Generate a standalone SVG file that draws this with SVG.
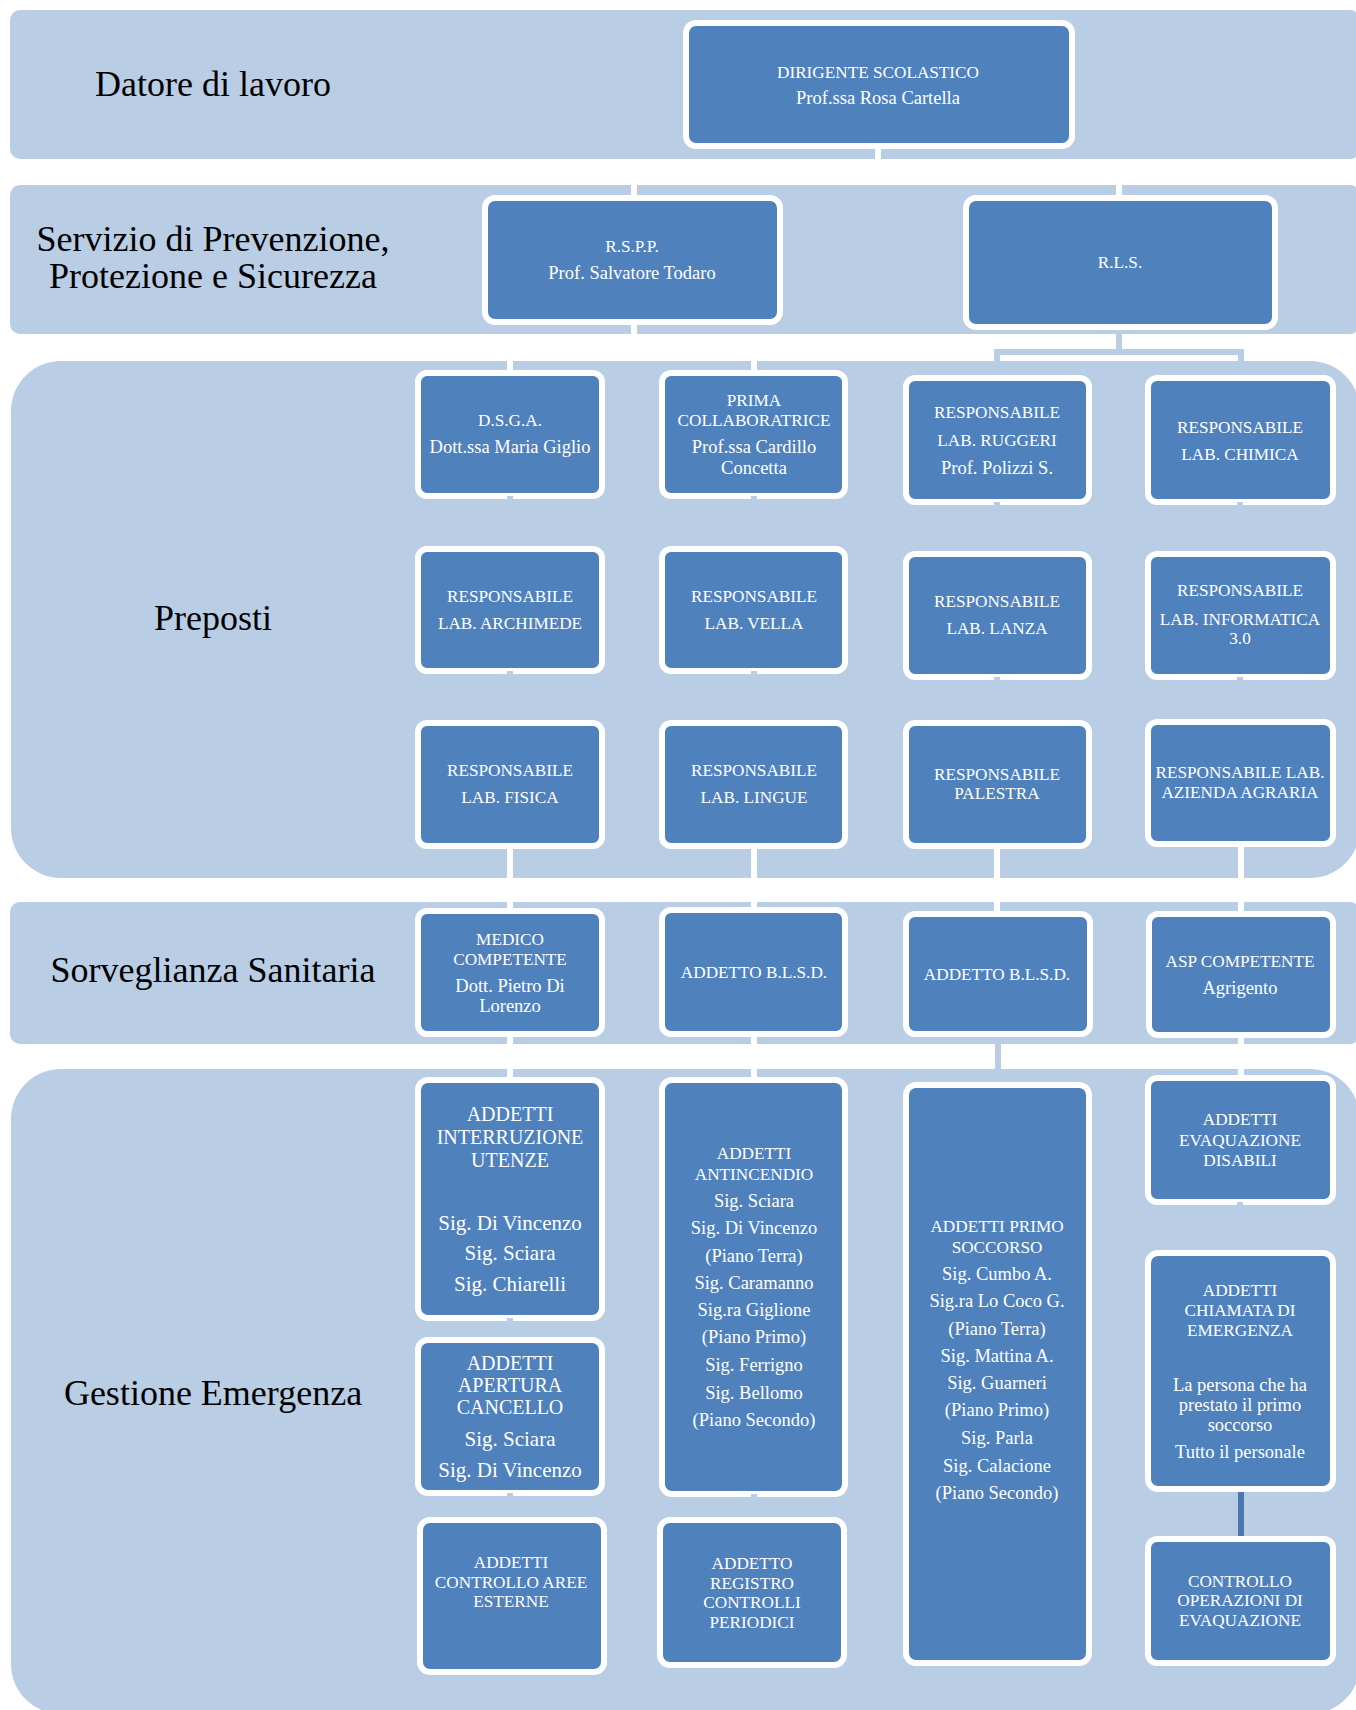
<svg xmlns="http://www.w3.org/2000/svg" width="1356" height="1710" viewBox="0 0 1356 1710">
<style>
.band{fill:#b9cde5}
.box{fill:#4f81bd;stroke:#ffffff;stroke-width:6}
.lbl{font-family:"Liberation Serif","Times New Roman",serif;font-size:36px;fill:#000000;text-anchor:middle}
.t{font-family:"Liberation Serif","Times New Roman",serif;font-size:18.5px;fill:#ffffff;text-anchor:middle}
.c{font-family:"Liberation Serif","Times New Roman",serif;font-size:17.2px;fill:#ffffff;text-anchor:middle}
.tl{font-family:"Liberation Serif","Times New Roman",serif;font-size:21px;fill:#ffffff;text-anchor:middle}
.cl{font-family:"Liberation Serif","Times New Roman",serif;font-size:20px;fill:#ffffff;text-anchor:middle}
.cw{stroke:#ffffff;stroke-width:6;fill:none}
.cb{stroke:#b9cde5;stroke-width:6;fill:none}
.cd{stroke:#4a77ae;stroke-width:6;fill:none}
</style>
<rect width="1356" height="1710" fill="#ffffff"/>
<g id="bands">
<rect class="band" x="10" y="10" width="1350" height="149" rx="10"/>
<rect class="band" x="10" y="185" width="1350" height="149" rx="10"/>
<rect class="band" x="11" y="361" width="1349" height="517" rx="50"/>
<rect class="band" x="10" y="902" width="1350" height="142" rx="10"/>
<rect class="band" x="11" y="1069" width="1349" height="645" rx="50"/>
<text class="lbl" x="213" y="96">Datore di lavoro</text>
<text class="lbl" x="213" y="251">Servizio di Prevenzione,</text>
<text class="lbl" x="213" y="288">Protezione e Sicurezza</text>
<text class="lbl" x="213" y="630">Preposti</text>
<text class="lbl" x="213" y="982">Sorveglianza Sanitaria</text>
<text class="lbl" x="213" y="1405">Gestione Emergenza</text>
</g>
<g id="connectors">
<path class="cw" d="M878 149 V172 H634 V196 M878 172 H1119 V196"/>
<path class="cw" d="M634 325 V347 H510 V371 M634 347 H754 V371"/>
<path class="cb" d="M1119 330 V352 H997 V376 M1119 352 H1241 V376"/>
<path class="cw" d="M510 849 V909 M754 849 V908 M997 849 V912 M1241 847 V912"/>
<path class="cw" d="M510 1037 V1078 M754 1037 V1078 M1241 1038 V1076"/>
<path class="cb" d="M998 1036 V1083"/>
<path class="cd" d="M1241 1491 V1536"/>
</g>
<g id="n-dirigente"><rect class="box" x="686" y="23" width="386" height="123" rx="10"/>
<text class="c" x="878" y="78">DIRIGENTE SCOLASTICO</text><text class="t" x="878" y="104">Prof.ssa Rosa Cartella</text></g>
<g id="n-rspp"><rect class="box" x="485" y="198" width="295" height="124" rx="10"/>
<text class="c" x="632" y="252">R.S.P.P.</text><text class="t" x="632" y="279">Prof. Salvatore Todaro</text></g>
<g id="n-rls"><rect class="box" x="966" y="198" width="309" height="129" rx="10"/>
<text class="c" x="1120" y="268">R.L.S.</text></g>
<g id="n-dsga"><rect class="box" x="418" y="373" width="184" height="123" rx="9"/>
<text class="c" x="510" y="426">D.S.G.A.</text><text class="t" x="510" y="453">Dott.ssa Maria Giglio</text></g>
<g id="n-prima"><rect class="box" x="662" y="373" width="183" height="123" rx="9"/>
<text class="c" x="754" y="406">PRIMA</text><text class="c" x="754" y="426">COLLABORATRICE</text><text class="t" x="754" y="453">Prof.ssa Cardillo</text><text class="t" x="754" y="474">Concetta</text></g>
<g id="n-ruggeri"><rect class="box" x="906" y="378" width="183" height="124" rx="9"/>
<text class="c" x="997" y="418">RESPONSABILE</text><text class="c" x="997" y="446">LAB. RUGGERI</text><text class="t" x="997" y="474">Prof. Polizzi S.</text></g>
<g id="n-chimica"><rect class="box" x="1148" y="378" width="185" height="124" rx="9"/>
<text class="c" x="1240" y="433">RESPONSABILE</text><text class="c" x="1240" y="460">LAB. CHIMICA</text></g>
<g id="n-archimede"><rect class="box" x="418" y="549" width="184" height="122" rx="9"/>
<text class="c" x="510" y="602">RESPONSABILE</text><text class="c" x="510" y="629">LAB. ARCHIMEDE</text></g>
<g id="n-vella"><rect class="box" x="662" y="549" width="183" height="122" rx="9"/>
<text class="c" x="754" y="602">RESPONSABILE</text><text class="c" x="754" y="629">LAB. VELLA</text></g>
<g id="n-lanza"><rect class="box" x="906" y="554" width="183" height="123" rx="9"/>
<text class="c" x="997" y="607">RESPONSABILE</text><text class="c" x="997" y="634">LAB. LANZA</text></g>
<g id="n-informatica"><rect class="box" x="1148" y="554" width="185" height="123" rx="9"/>
<text class="c" x="1240" y="596">RESPONSABILE</text><text class="c" x="1240" y="625">LAB. INFORMATICA</text><text class="c" x="1240" y="644">3.0</text></g>
<g id="n-fisica"><rect class="box" x="418" y="723" width="184" height="123" rx="9"/>
<text class="c" x="510" y="776">RESPONSABILE</text><text class="c" x="510" y="803">LAB. FISICA</text></g>
<g id="n-lingue"><rect class="box" x="662" y="723" width="183" height="123" rx="9"/>
<text class="c" x="754" y="776">RESPONSABILE</text><text class="c" x="754" y="803">LAB. LINGUE</text></g>
<g id="n-palestra"><rect class="box" x="906" y="723" width="183" height="123" rx="9"/>
<text class="c" x="997" y="780">RESPONSABILE</text><text class="c" x="997" y="799">PALESTRA</text></g>
<g id="n-agraria"><rect class="box" x="1148" y="722" width="185" height="122" rx="9"/>
<text class="c" x="1240" y="778">RESPONSABILE LAB.</text><text class="c" x="1240" y="798">AZIENDA AGRARIA</text></g>
<g id="n-medico"><rect class="box" x="418" y="911" width="184" height="123" rx="9"/>
<text class="c" x="510" y="945">MEDICO</text><text class="c" x="510" y="965">COMPETENTE</text><text class="t" x="510" y="992">Dott. Pietro Di</text><text class="t" x="510" y="1012">Lorenzo</text></g>
<g id="n-blsd1"><rect class="box" x="662" y="910" width="183" height="124" rx="9"/>
<text class="c" x="754" y="978">ADDETTO B.L.S.D.</text></g>
<g id="n-blsd2"><rect class="box" x="906" y="914" width="184" height="120" rx="9"/>
<text class="c" x="997" y="980">ADDETTO B.L.S.D.</text></g>
<g id="n-asp"><rect class="box" x="1149" y="914" width="184" height="121" rx="9"/>
<text class="c" x="1240" y="967">ASP COMPETENTE</text><text class="t" x="1240" y="994">Agrigento</text></g>
<g id="n-interruzione"><rect class="box" x="418" y="1080" width="184" height="238" rx="10"/>
<text class="cl" x="510" y="1121">ADDETTI</text><text class="cl" x="510" y="1144">INTERRUZIONE</text><text class="cl" x="510" y="1167">UTENZE</text><text class="tl" x="510" y="1230">Sig. Di Vincenzo</text><text class="tl" x="510" y="1260">Sig. Sciara</text><text class="tl" x="510" y="1291">Sig. Chiarelli</text></g>
<g id="n-cancello"><rect class="box" x="418" y="1340" width="184" height="153" rx="10"/>
<text class="cl" x="510" y="1370">ADDETTI</text><text class="cl" x="510" y="1392">APERTURA</text><text class="cl" x="510" y="1414">CANCELLO</text><text class="tl" x="510" y="1446">Sig. Sciara</text><text class="tl" x="510" y="1477">Sig. Di Vincenzo</text></g>
<g id="n-aree"><rect class="box" x="420" y="1520" width="184" height="152" rx="10"/>
<text class="c" x="511" y="1568">ADDETTI</text><text class="c" x="511" y="1588">CONTROLLO AREE</text><text class="c" x="511" y="1607">ESTERNE</text></g>
<g id="n-antincendio"><rect class="box" x="662" y="1080" width="183" height="414" rx="10"/>
<text class="c" x="754" y="1159">ADDETTI</text><text class="c" x="754" y="1180">ANTINCENDIO</text><text class="t" x="754" y="1207">Sig. Sciara</text><text class="t" x="754" y="1234">Sig. Di Vincenzo</text><text class="t" x="754" y="1262">(Piano Terra)</text><text class="t" x="754" y="1289">Sig. Caramanno</text><text class="t" x="754" y="1316">Sig.ra Giglione</text><text class="t" x="754" y="1343">(Piano Primo)</text><text class="t" x="754" y="1371">Sig. Ferrigno</text><text class="t" x="754" y="1399">Sig. Bellomo</text><text class="t" x="754" y="1426">(Piano Secondo)</text></g>
<g id="n-registro"><rect class="box" x="660" y="1520" width="184" height="145" rx="10"/>
<text class="c" x="752" y="1569">ADDETTO</text><text class="c" x="752" y="1589">REGISTRO</text><text class="c" x="752" y="1608">CONTROLLI</text><text class="c" x="752" y="1628">PERIODICI</text></g>
<g id="n-soccorso"><rect class="box" x="906" y="1085" width="183" height="578" rx="10"/>
<text class="c" x="997" y="1232">ADDETTI PRIMO</text><text class="c" x="997" y="1253">SOCCORSO</text><text class="t" x="997" y="1280">Sig. Cumbo A.</text><text class="t" x="997" y="1307">Sig.ra Lo Coco G.</text><text class="t" x="997" y="1335">(Piano Terra)</text><text class="t" x="997" y="1362">Sig. Mattina A.</text><text class="t" x="997" y="1389">Sig. Guarneri</text><text class="t" x="997" y="1416">(Piano Primo)</text><text class="t" x="997" y="1444">Sig. Parla</text><text class="t" x="997" y="1472">Sig. Calacione</text><text class="t" x="997" y="1499">(Piano Secondo)</text></g>
<g id="n-disabili"><rect class="box" x="1148" y="1078" width="185" height="124" rx="9"/>
<text class="c" x="1240" y="1125">ADDETTI</text><text class="c" x="1240" y="1146">EVAQUAZIONE</text><text class="c" x="1240" y="1166">DISABILI</text></g>
<g id="n-chiamata"><rect class="box" x="1148" y="1253" width="185" height="236" rx="10"/>
<text class="c" x="1240" y="1296">ADDETTI</text><text class="c" x="1240" y="1316">CHIAMATA DI</text><text class="c" x="1240" y="1336">EMERGENZA</text><text class="t" x="1240" y="1391">La persona che ha</text><text class="t" x="1240" y="1411">prestato il primo</text><text class="t" x="1240" y="1431">soccorso</text><text class="t" x="1240" y="1458">Tutto il personale</text></g>
<g id="n-evaquazione"><rect class="box" x="1148" y="1539" width="185" height="124" rx="9"/>
<text class="c" x="1240" y="1587">CONTROLLO</text><text class="c" x="1240" y="1606">OPERAZIONI DI</text><text class="c" x="1240" y="1626">EVAQUAZIONE</text></g>
<g id="notches" fill="#b9cde5">
<rect x="507" y="496" width="6" height="3"/><rect x="751" y="496" width="6" height="3"/><rect x="994" y="502" width="6" height="3"/><rect x="1237" y="502" width="6" height="3"/>
<rect x="507" y="671" width="6" height="3"/><rect x="751" y="671" width="6" height="3"/><rect x="994" y="677" width="6" height="3"/><rect x="1237" y="677" width="6" height="3"/>
<rect x="507" y="1318" width="6" height="3"/><rect x="507" y="1493" width="6" height="3"/><rect x="751" y="1494" width="6" height="3"/><rect x="1237" y="1202" width="6" height="3"/>
</g>
</svg>
